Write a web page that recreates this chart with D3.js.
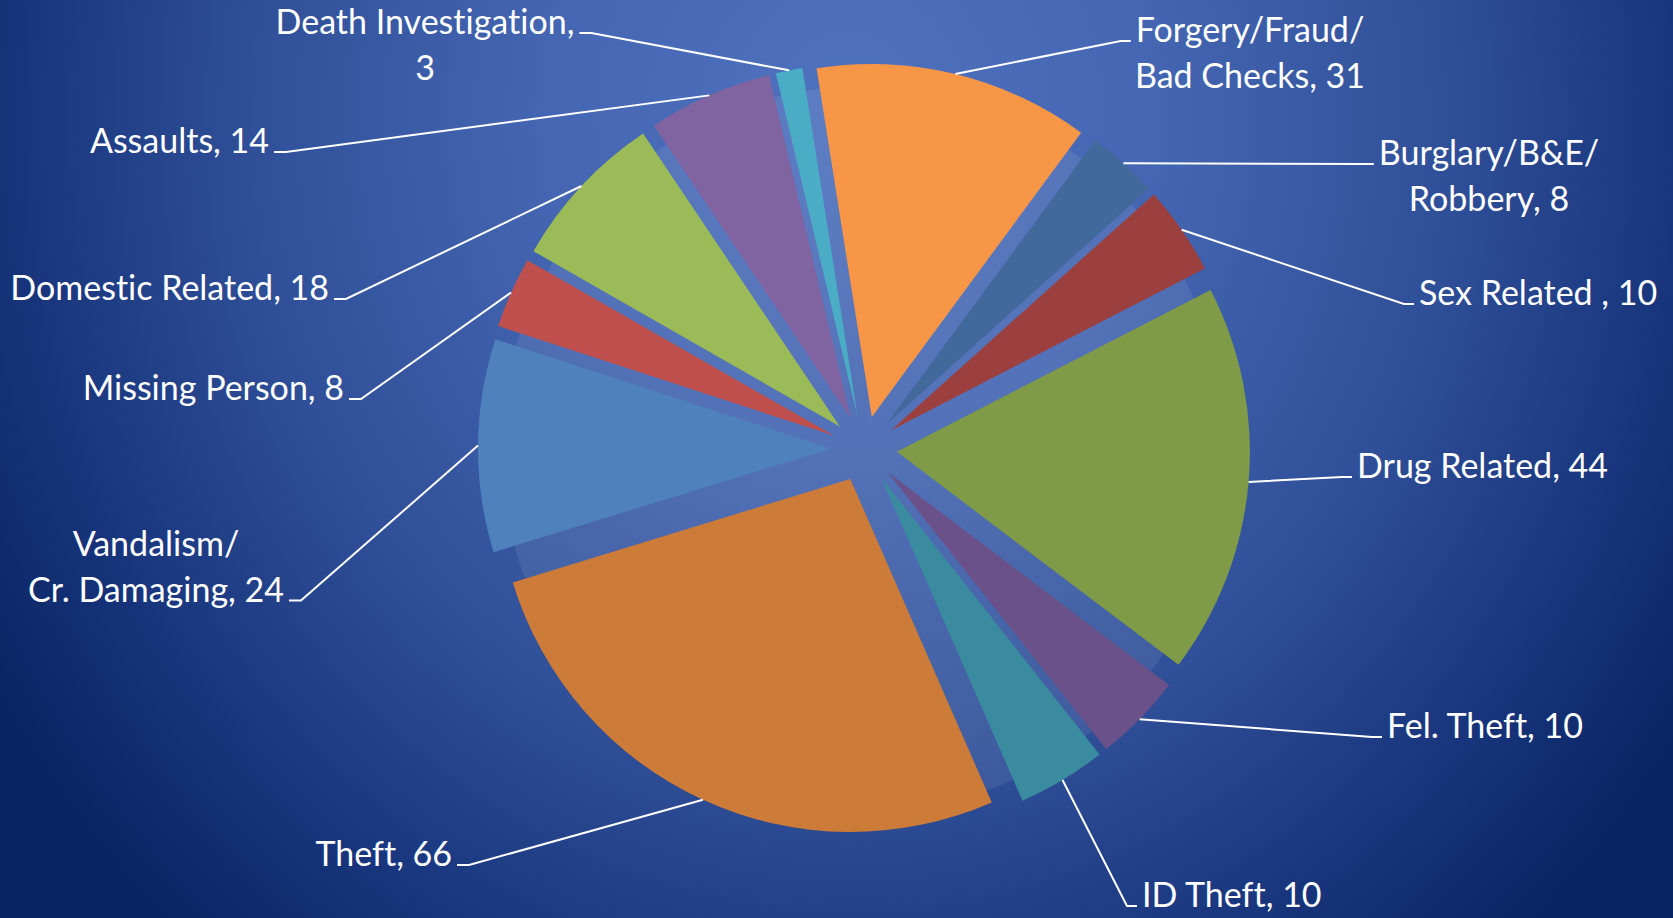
<!DOCTYPE html>
<html><head><meta charset="utf-8">
<script src="https://cdn.jsdelivr.net/npm/d3@7"></script>
<style>html,body{margin:0;padding:0;overflow:hidden;background:#0a2562} text{font-variant-ligatures:none;font-feature-settings:"liga" 0,"clig" 0}</style>
</head><body><svg id="c" width="1673" height="918"></svg>
<script>
// ---- data ----
const categories = ["Forgery/Fraud/Bad Checks","Burglary/B&E/Robbery","Sex Related","Drug Related","Fel. Theft","ID Theft","Theft","Vandalism/Cr. Damaging","Missing Person","Domestic Related","Assaults","Death Investigation"];
const values = [31,8,10,44,10,10,66,24,8,18,14,3];
const colors = ["#F79646","#41699B","#9C403F","#7F9B48","#6A5189","#3B8BA0","#CC7B38","#4F81BD","#C0504D","#9BBB59","#8064A2","#4BACC6"];
const labelFormats = ["Forgery/Fraud/|Bad Checks, {v}","Burglary/B&E/|Robbery, {v}","Sex Related , {v}","Drug Related, {v}","Fel. Theft, {v}","ID Theft, {v}","Theft, {v}","Vandalism/|Cr. Damaging, {v}","Missing Person, {v}","Domestic Related, {v}","Assaults, {v}","Death Investigation,|{v}"];

// ---- layout ----
const W = 1673, H = 918, cx = 864, cy = 449, R = 353, explode = 33, startDeg = -9;
const lineGap = 45.5, fontSize = 34;
const labelLayout = [
  {x:1250, y:42,  anchor:"middle", side:"left",  line:0},
  {x:1489, y:165, anchor:"middle", side:"left",  line:0},
  {x:1419, y:305, anchor:"start",  side:"left",  line:0},
  {x:1357, y:478, anchor:"start",  side:"left",  line:0},
  {x:1387, y:738, anchor:"start",  side:"left",  line:0},
  {x:1142, y:907, anchor:"start",  side:"left",  line:0},
  {x:452,  y:866, anchor:"end",    side:"right", line:0},
  {x:156,  y:556, anchor:"middle", side:"right", line:1},
  {x:344,  y:400, anchor:"end",    side:"right", line:0},
  {x:329,  y:300, anchor:"end",    side:"right", line:0},
  {x:269,  y:153, anchor:"end",    side:"right", line:0},
  {x:425,  y:34,  anchor:"middle", side:"right", line:0}
];

const svg = d3.select("#c");
const defs = svg.append("defs");
const bg = defs.append("radialGradient").attr("id","bg")
  .attr("gradientUnits","userSpaceOnUse").attr("cx",0).attr("cy",0).attr("r",1)
  .attr("gradientTransform","translate(850,120) scale(1000,1100)");
[[0,"#5073bf"],[0.3,"#4566b2"],[0.6,"#2f4f98"],[0.85,"#16337a"],[1,"#0a2562"]]
  .forEach(([o,c]) => bg.append("stop").attr("offset",o).attr("stop-color",c));
svg.append("rect").attr("width",W).attr("height",H).attr("fill","url(#bg)");

const data = categories.map((c,i) => ({name:c, value:values[i], color:colors[i], fmt:labelFormats[i], lay:labelLayout[i]}));
const a0 = startDeg*Math.PI/180;
const pie = d3.pie().value(d => d.value).sort(null).startAngle(a0).endAngle(a0 + 2*Math.PI);
const arcs = pie(data);
const arc = d3.arc().innerRadius(0).outerRadius(R);

const g = svg.append("g").attr("transform",`translate(${cx},${cy})`);
g.append("circle").attr("r", R + explode*0.3).attr("fill","#ffffff").attr("opacity",0.08);

const u = a => [Math.sin(a), -Math.cos(a)];
g.selectAll("path.slice").data(arcs).join("path").attr("class","slice")
  .attr("d", arc).attr("fill", d => d.data.color)
  .attr("transform", d => { const m=(d.startAngle+d.endAngle)/2, v=u(m); return `translate(${v[0]*explode},${v[1]*explode})`; });

// labels
const lg = svg.append("g").attr("font-family","Lato, 'Open Sans', sans-serif").attr("font-size",fontSize).attr("fill","#fff");
arcs.forEach(d => {
  const L = d.data.lay;
  const lines = d.data.fmt.replace("{v}", d.data.value).split("|");
  const t = lg.append("text").attr("text-anchor", L.anchor);
  const spans = lines.map((s,i) => t.append("tspan").attr("x", L.x).attr("y", L.y + i*lineGap).text(s));
  const sp = spans[L.line].node();
  const w = sp.getComputedTextLength();
  let left = L.anchor === "start" ? L.x : L.anchor === "end" ? L.x - w : L.x - w/2;
  let right = left + w;
  const sy = L.y + L.line*lineGap - 1;
  let stubEnd, elbow;
  if (L.side === "left") { stubEnd = left - 5; elbow = left - 15; }
  else { stubEnd = right + 5; elbow = right + 17; }
  const m = (d.startAngle + d.endAngle)/2, v = u(m);
  const ax = cx + v[0]*(R+explode), ay = cy + v[1]*(R+explode);
  svg.insert("path", "g:last-child")
    .attr("d", d3.line()([[ax,ay],[elbow,sy],[stubEnd,sy]]))
    .attr("fill","none").attr("stroke","#fff").attr("stroke-width",2);
});
</script></body></html>
